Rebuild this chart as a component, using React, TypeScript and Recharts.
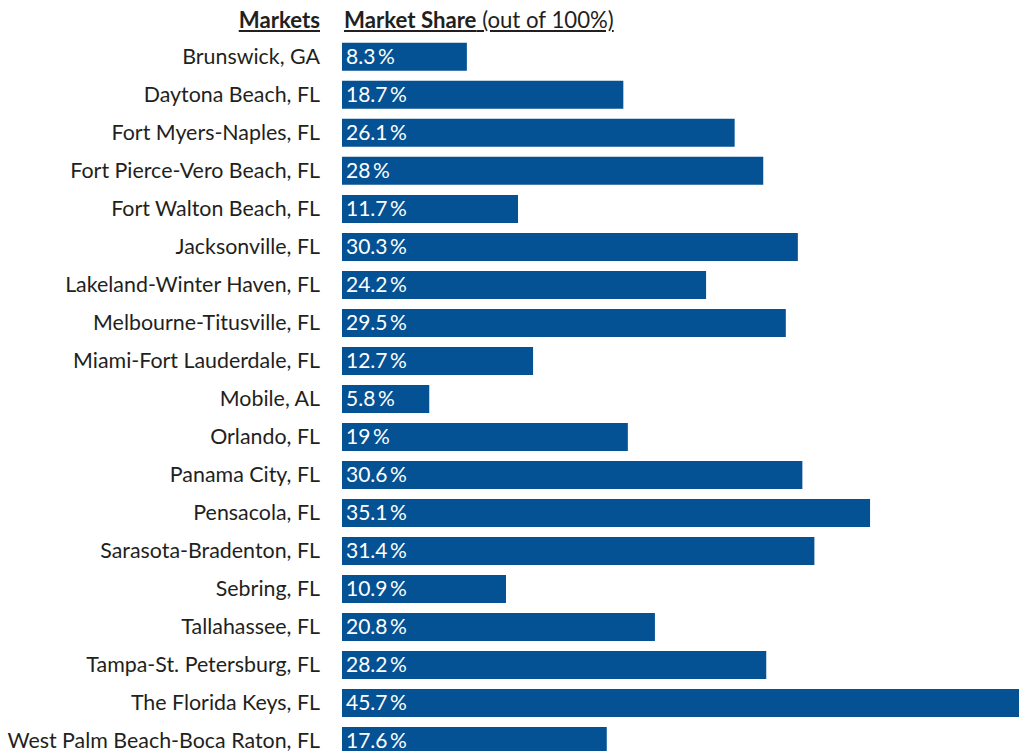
import React from "react";
import { BarChart, Bar, XAxis, YAxis, LabelList } from "recharts";

const markets = [
  "Brunswick, GA",
  "Daytona Beach, FL",
  "Fort Myers-Naples, FL",
  "Fort Pierce-Vero Beach, FL",
  "Fort Walton Beach, FL",
  "Jacksonville, FL",
  "Lakeland-Winter Haven, FL",
  "Melbourne-Titusville, FL",
  "Miami-Fort Lauderdale, FL",
  "Mobile, AL",
  "Orlando, FL",
  "Panama City, FL",
  "Pensacola, FL",
  "Sarasota-Bradenton, FL",
  "Sebring, FL",
  "Tallahassee, FL",
  "Tampa-St. Petersburg, FL",
  "The Florida Keys, FL",
  "West Palm Beach-Boca Raton, FL",
];

const shares = [8.3, 18.7, 26.1, 28, 11.7, 30.3, 24.2, 29.5, 12.7, 5.8, 19, 30.6, 35.1, 31.4, 10.9, 20.8, 28.2, 45.7, 17.6];

const data = markets.map((m, i) => ({ market: m, share: shares[i] }));

const FONT = "Lato, 'Open Sans', sans-serif";
const TEXT = "#231f20";
const BAR = "#045294";

const MarketTick = (props: any) => {
  const { y, payload } = props;
  return (
    <text x={320} y={y} dy={7} textAnchor="end" fill={TEXT} fontSize={21.4} fontFamily={FONT}>
      {payload.value}
    </text>
  );
};

const ShareLabel = (props: any) => {
  const { x, y, height, value } = props;
  return (
    <text x={x + 4} y={y + height / 2} dy={7} fill="#ffffff" fontSize={21} fontFamily={FONT}>
      {`${value}\u2009%`}
    </text>
  );
};

export default function App() {
  return (
    <div style={{ position: "absolute", left: 0, top: 0, width: 1019, height: 751, overflow: "hidden", background: "#fff" }}>
      <div
        style={{
          position: "absolute",
          right: 1019 - 320,
          top: 6,
          fontFamily: FONT,
          fontSize: 22.2,
          lineHeight: "27px",
          color: TEXT,
          fontWeight: 700,
          textDecoration: "underline",
          whiteSpace: "nowrap",
        }}
      >
        Markets
      </div>
      <div
        style={{
          position: "absolute",
          left: 344,
          top: 6,
          fontFamily: FONT,
          fontSize: 22.2,
          lineHeight: "27px",
          color: TEXT,
          textDecoration: "underline",
          whiteSpace: "nowrap",
        }}
      >
        <span style={{ fontWeight: 700 }}>Market Share</span> (out of 100%)
      </div>
      <BarChart
        width={1019}
        height={760}
        data={data}
        layout="vertical"
        margin={{ top: 37.85, right: 0, bottom: 0, left: 0 }}
      >
        <XAxis type="number" domain={[0, 45]} allowDataOverflow hide />
        <YAxis
          type="category"
          dataKey="market"
          width={342}
          axisLine={false}
          tickLine={false}
          tick={<MarketTick />}
          interval={0}
        />
        <Bar dataKey="share" fill={BAR} barSize={28} isAnimationActive={false}>
          <LabelList dataKey="share" content={<ShareLabel />} />
        </Bar>
      </BarChart>
    </div>
  );
}
